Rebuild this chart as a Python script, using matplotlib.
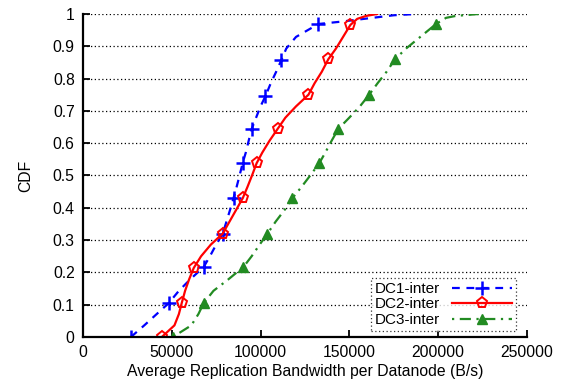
import matplotlib
matplotlib.use("Agg")
import matplotlib.pyplot as plt

# markers sit on every third point
dc1_x = [27000, 34500, 41500, 48300, 54000, 60500, 68000, 71500, 75000, 78700,
         80800, 82800, 84800, 86500, 88200, 90000, 91700, 93300, 95000, 97500,
         100000, 102800, 105800, 108800, 111800, 114500, 120000, 132600,
         145000, 160000, 175000, 188000]
dc1_y = [0.0, 0.036, 0.071, 0.105, 0.143, 0.179, 0.217, 0.25, 0.286, 0.32,
         0.357, 0.393, 0.43, 0.464, 0.5, 0.54, 0.571, 0.607, 0.644, 0.679,
         0.714, 0.746, 0.786, 0.821, 0.858, 0.893, 0.929, 0.969,
         0.976, 0.986, 0.996, 1.0]

dc2_x = [44400, 51500, 54000, 55600, 57500, 59800, 62400, 66500, 72000, 78700,
         82500, 86200, 90000, 92600, 95200, 97800, 101000, 105000, 109600, 114000,
         120000, 127000, 130500, 134500, 138200, 142500, 146500, 150600,
         154500, 159500, 165700]
dc2_y = [0.0, 0.036, 0.071, 0.105, 0.143, 0.179, 0.214, 0.25, 0.286, 0.32,
         0.357, 0.393, 0.43, 0.464, 0.5, 0.538, 0.571, 0.607, 0.644, 0.679,
         0.714, 0.75, 0.786, 0.821, 0.86, 0.893, 0.929, 0.966,
         0.985, 0.994, 1.0]

dc3_x = [50600, 61000, 65000, 68000, 73500, 82000, 90400, 95000, 99500, 103900,
         108500, 113500, 118000, 123000, 128000, 133100, 136500, 140000, 143800,
         150000, 156000, 161200, 166000, 171000, 175800, 182000, 190000, 198900,
         204500, 210000, 223000]
dc3_y = [0.0, 0.036, 0.071, 0.105, 0.143, 0.179, 0.217, 0.25, 0.286, 0.32,
         0.357, 0.393, 0.43, 0.464, 0.5, 0.538, 0.571, 0.607, 0.644,
         0.679, 0.714, 0.75, 0.786, 0.821, 0.86, 0.893, 0.929, 0.969,
         0.988, 0.994, 1.0]

marks = list(range(0, 28, 3))

x_ticks = [0, 50000, 100000, 150000, 200000, 250000]
y_ticks = [0, 0.1, 0.2, 0.3, 0.4, 0.5, 0.6, 0.7, 0.8, 0.9, 1]
y_labels = ["0", "0.1", "0.2", "0.3", "0.4", "0.5", "0.6", "0.7", "0.8", "0.9", "1"]

plt.rcParams["font.family"] = ["Liberation Sans", "DejaVu Sans"]

fig = plt.figure(figsize=(5.61, 3.85), dpi=100)
ax = fig.add_axes([0.148, 0.1247, 0.791, 0.839])

ax.plot(dc1_x, dc1_y, color="#0000ff", linestyle=(0, (3.5, 3)), linewidth=1.6,
        marker="+", markersize=10, markeredgewidth=1.8, markevery=marks,
        label="DC1-inter")
ax.plot(dc2_x, dc2_y, color="#ff0000", linestyle="-", linewidth=1.6,
        marker="p", markersize=8, markeredgewidth=1.4, markerfacecolor="none",
        markevery=marks, label="DC2-inter")
ax.plot(dc3_x, dc3_y, color="#228b22", linestyle=(0, (1, 2.5, 5, 2.5)), linewidth=1.6,
        marker="^", markersize=7, markevery=marks, label="DC3-inter")

ax.set_xlim(0, 250000)
ax.set_ylim(0, 1)
ax.set_xticks(x_ticks)
ax.set_xticklabels([str(t) for t in x_ticks])
ax.set_yticks(y_ticks)
ax.set_yticklabels(y_labels)
ax.tick_params(direction="in", length=5, width=1.3, labelsize=11.3, pad=6)
ax.grid(True, axis="y", linestyle=(0, (1, 2)), color="black", linewidth=0.9)
ax.set_axisbelow(True)

for side in ["top", "right"]:
    ax.spines[side].set_visible(False)
for side in ["left", "bottom"]:
    ax.spines[side].set_linewidth(1.6)

ax.set_xlabel("Average Replication Bandwidth per Datanode (B/s)", fontsize=11.3, labelpad=3)
ax.set_ylabel("CDF", fontsize=11.3, labelpad=14)

leg = ax.legend(loc="lower right", bbox_to_anchor=(0.985, 0.005), markerfirst=False,
                fontsize=11, frameon=True, fancybox=False, handlelength=3.9,
                borderpad=0.25, labelspacing=0.1, handletextpad=0.8,
                borderaxespad=0.3)
leg.get_frame().set_edgecolor("black")
leg.get_frame().set_linestyle((0, (1, 2)))
leg.get_frame().set_linewidth(0.9)

fig.savefig("out.png", dpi=100)
plt.close(fig)
